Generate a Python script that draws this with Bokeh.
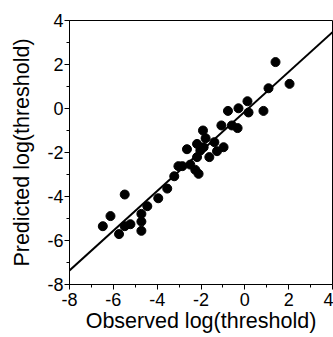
from bokeh.plotting import figure
from bokeh.embed import file_html
from bokeh.resources import INLINE
from bokeh.models import FixedTicker, Range1d

observed = [-6.48, -6.13, -5.48, -5.74, -5.48, -5.22, -4.72, -4.72, -4.72, -4.45,
            -3.95, -3.54, -3.22, -3.03, -2.85, -2.64, -2.49, -2.26, -2.11, -2.18,
            -2.18, -2.03, -1.91, -1.79, -1.88, -1.62, -1.39, -1.27, -0.97, -1.07,
            -0.77, -0.59, -0.33, -0.29, 0.12, 0.17, 0.85, 1.08, 1.40, 2.04]
predicted = [-5.35, -4.89, -3.91, -5.71, -5.35, -5.26, -4.79, -5.14, -5.56, -4.44,
             -4.08, -3.64, -3.08, -2.62, -2.62, -1.85, -2.55, -2.79, -2.97, -1.61,
             -2.21, -1.91, -1.00, -1.35, -1.76, -2.21, -1.53, -1.94, -1.76, -0.77,
             -0.11, -0.77, -0.89, 0.01, 0.33, -0.18, -0.11, 0.92, 2.11, 1.12]

fit_slope = 0.903
fit_intercept = -0.14
fit_x = [-8, 4]
fit_y = [fit_slope * v + fit_intercept for v in fit_x]

major_ticks = [-8, -6, -4, -2, 0, 2, 4]
minor_ticks = [-7, -5, -3, -1, 1, 3]
tick_labels = ["-8", "-6", "-4", "-2", "0", "2", "4"]

FONT = "Liberation Sans"

p = figure(width=333, height=337, output_backend="svg", toolbar_location=None,
           x_range=Range1d(-8, 4), y_range=Range1d(-8, 4),
           min_border_left=69, min_border_right=1, min_border_top=20, min_border_bottom=53)
p.background_fill_color = "white"
p.border_fill_color = "white"
p.outline_line_color = "black"
p.outline_line_width = 1
p.xgrid.visible = False
p.ygrid.visible = False

p.line(fit_x, fit_y, line_color="black", line_width=2)
p.scatter(observed, predicted, size=9, fill_color="black", line_color="black")

overrides = {v: t for v, t in zip(major_ticks, tick_labels)}
for ax in (p.xaxis[0], p.yaxis[0]):
    ax.ticker = FixedTicker(ticks=major_ticks, minor_ticks=minor_ticks)
    ax.major_label_overrides = overrides
    ax.axis_line_color = "black"
    ax.axis_line_width = 1
    ax.major_tick_line_color = "black"
    ax.minor_tick_line_color = "black"
    ax.major_tick_in = 0
    ax.major_tick_out = 5
    ax.minor_tick_in = 0
    ax.minor_tick_out = 3
    ax.major_label_text_font = FONT
    ax.major_label_text_font_size = "18px"
    ax.major_label_text_color = "black"
    ax.axis_label_text_font = FONT
    ax.axis_label_text_font_size = "21.5px"
    ax.axis_label_text_font_style = "normal"
    ax.axis_label_text_color = "black"

p.xaxis[0].axis_label = "Observed log(threshold)"
p.yaxis[0].axis_label = "Predicted log(threshold)"
p.xaxis[0].major_label_standoff = 3
p.xaxis[0].axis_label_standoff = 0
p.yaxis[0].major_label_standoff = 1
p.yaxis[0].axis_label_standoff = 10

open("out.html", "w").write(file_html(p, INLINE))
